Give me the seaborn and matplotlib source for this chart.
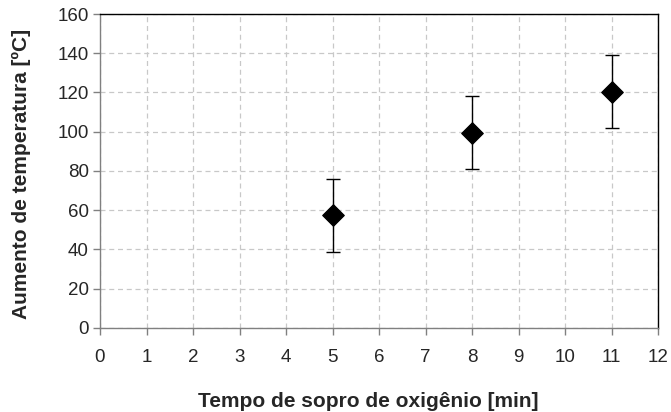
import matplotlib
matplotlib.use("Agg")
import matplotlib.pyplot as plt
import seaborn as sns
import pandas as pd

tempo = [5, 8, 11]
aumento = [57.5, 99.5, 120.5]
erro = [18.6, 18.6, 18.6]
xticks = list(range(0, 13))
yticks = list(range(0, 161, 20))

sns.set_style("white")
plt.rcParams['font.family'] = ['Liberation Sans', 'DejaVu Sans']

df = pd.DataFrame({"tempo": tempo, "aumento": aumento, "erro": erro})

fig = plt.figure(figsize=(6.71, 4.12), dpi=100)
ax = fig.add_axes([0.149, 0.204, 0.832, 0.762])

ax.errorbar(df["tempo"], df["aumento"], yerr=df["erro"], fmt='none',
            ecolor='black', elinewidth=1.0, capsize=5, capthick=1.0, zorder=3)
sns.scatterplot(data=df, x="tempo", y="aumento", marker='D', s=120,
                color='black', edgecolor='black', ax=ax, zorder=4, legend=False)

ax.set_xlim(0, 12)
ax.set_ylim(0, 160)
ax.set_xticks(xticks)
ax.set_yticks(yticks)
ax.grid(True, color='#c8c8c8', linestyle=(0, (4, 3)), linewidth=0.9)
ax.set_axisbelow(True)

for s in ['top', 'right']:
    ax.spines[s].set_color('black')
    ax.spines[s].set_linewidth(1.0)
for s in ['left', 'bottom']:
    ax.spines[s].set_color('#808080')
    ax.spines[s].set_linewidth(1.0)

ax.tick_params(axis='both', which='major', labelsize=13.5, length=5,
               color='#808080', direction='out', width=1.0, left=True, bottom=True)
ax.tick_params(axis='x', pad=10)
ax.tick_params(axis='y', pad=3)

ax.set_xlabel("Tempo de sopro de oxigênio [min]", fontsize=15, fontweight='bold', labelpad=19)
ax.xaxis.label.set_x(0.481)
ax.set_ylabel("Aumento de temperatura [ºC]", fontsize=15, fontweight='bold', labelpad=19)
ax.yaxis.label.set_y(0.49)

fig.savefig("out.png", dpi=100)
